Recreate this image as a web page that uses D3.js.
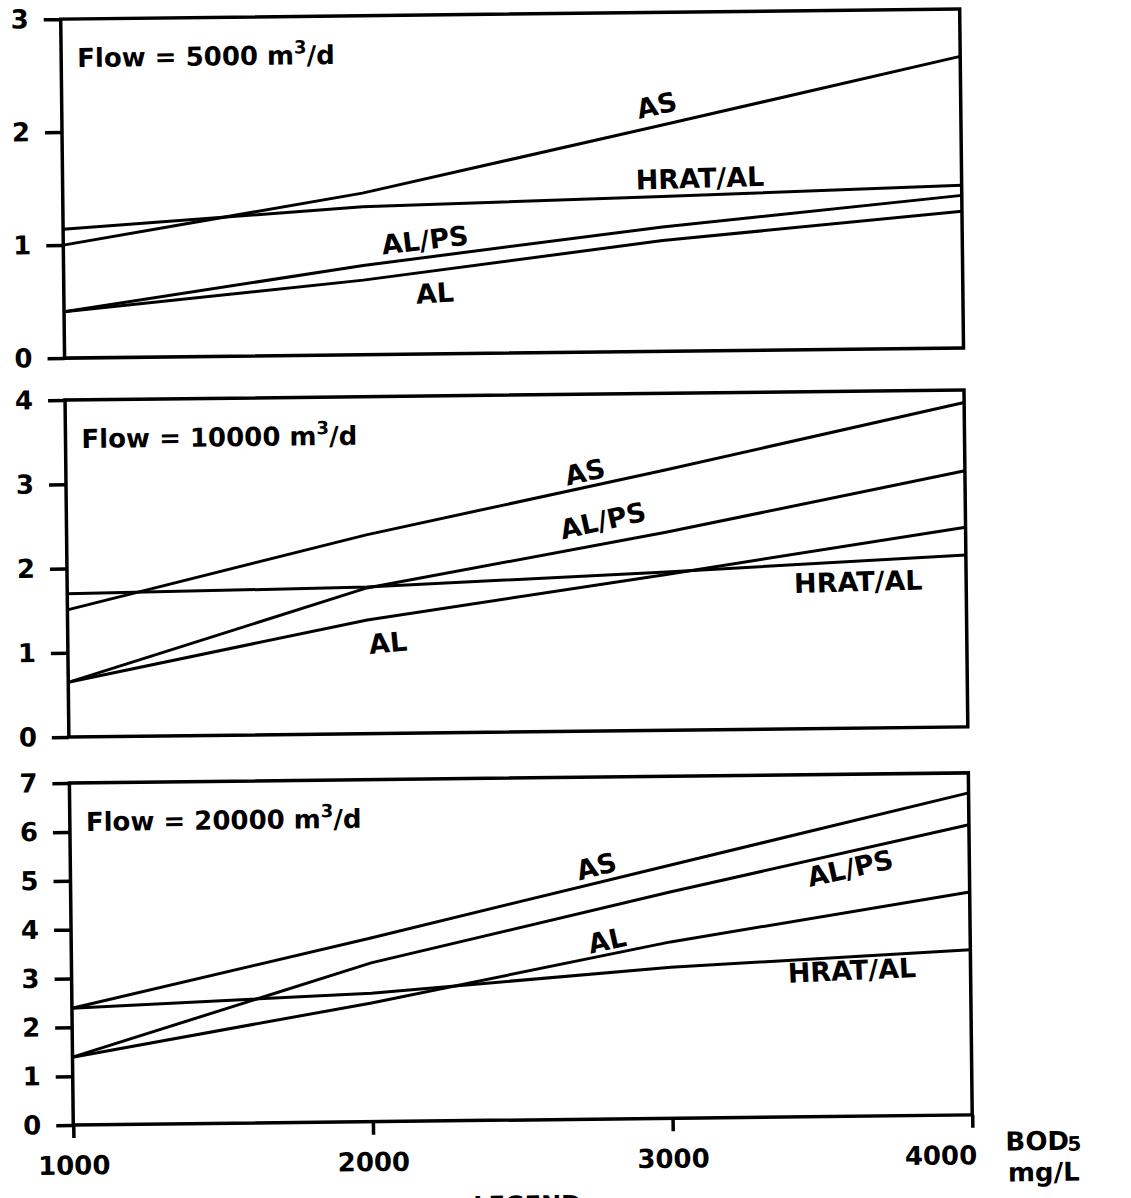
<!DOCTYPE html>
<html>
<head>
<meta charset="utf-8">
<script src="https://cdn.jsdelivr.net/npm/d3@7"></script>
<style>
  html, body { margin: 0; padding: 0; background: #fff; }
  svg text { font-family: "DejaVu Sans", sans-serif; font-weight: bold; fill: #000; }
</style>
</head>
<body>
<div id="chart"></div>
<script>
// BOD5 (mg/L) on x, cost on y, one panel per flow
const bod = [1000, 2000, 3000, 4000];
const seriesNames = ["AS", "HRAT/AL", "AL/PS", "AL"];
const flows = [5000, 10000, 20000];
const yTops = [3, 4, 7];

// values per series, in seriesNames order, read at bod points
const cost5000 = [
  [1.00, 1.43, 2.00, 2.58],
  [1.14, 1.31, 1.37, 1.44],
  [0.41, 0.79, 1.10, 1.35],
  [0.41, 0.66, 0.98, 1.21]
];
const cost10000 = [
  [1.51, 2.36, 3.09, 3.85],
  [1.70, 1.74, 1.88, 2.04],
  [0.65, 1.73, 2.35, 3.04],
  [0.65, 1.35, 1.85, 2.37]
];
const cost20000 = [
  [2.39, 3.76, 5.18, 6.59],
  [2.39, 2.63, 3.09, 3.38],
  [1.39, 3.25, 4.63, 5.94],
  [1.39, 2.43, 3.61, 4.56]
];
const panelData = [cost5000, cost10000, cost20000];

// where each curve name sits: [name, bod, cost, angle]
const labelSpots = [
  [["AS", 2985, 2.18, -12], ["HRAT/AL", 3127, 1.53, -1], ["AL/PS", 2207, 1.01, -6], ["AL", 2238, 0.54, -3]],
  [["AS", 2732, 3.08, -12], ["AL/PS", 2790, 2.50, -12], ["HRAT/AL", 3640, 1.74, -1], ["AL", 2068, 1.08, -5]],
  [["AS", 2755, 5.18, -14], ["AL/PS", 3602, 5.08, -12], ["AL", 2788, 3.66, -12], ["HRAT/AL", 3604, 2.99, -2]]
];

const width = 1131;
const height = 1198;

const svg = d3.select("#chart")
  .append("svg")
  .attr("width", width)
  .attr("height", height);

// the scan is a little tilted
const root = svg.append("g").attr("transform", "rotate(-0.65 516 570)");

const panelBox = [
  { top: 14, bottom: 353 },
  { top: 395, bottom: 732 },
  { top: 778, bottom: 1120 }
];

const x = d3.scaleLinear().domain([1000, 4000]).range([67, 966]);

const line = d3.line()
  .x((d, i) => x(bod[i]))
  .y(d => d);

panelBox.forEach((box, p) => {
  const y = d3.scaleLinear().domain([0, yTops[p]]).range([box.bottom, box.top]);
  const g = root.append("g");

  // y ticks on the left
  const yAxis = g.append("g")
    .attr("transform", `translate(${x(1000)},0)`)
    .call(d3.axisLeft(y).ticks(yTops[p]).tickSize(17).tickPadding(15).tickFormat(d3.format("d")));
  yAxis.select(".domain").remove();
  yAxis.selectAll("line").attr("stroke", "#000").attr("stroke-width", 3.5);
  yAxis.selectAll("text").attr("font-size", 26).attr("font-family", "DejaVu Sans").attr("font-weight", "bold");

  // bottom ticks only on the last panel
  if (p === 2) {
    const xAxis = g.append("g")
      .attr("transform", `translate(0,${box.bottom})`)
      .call(d3.axisBottom(x).tickValues(bod).tickSize(13).tickPadding(18).tickFormat(d3.format("d")));
    xAxis.select(".domain").remove();
    xAxis.selectAll("line").attr("stroke", "#000").attr("stroke-width", 3.5);
    xAxis.selectAll("text").attr("font-size", 26).attr("font-family", "DejaVu Sans").attr("font-weight", "bold");
    xAxis.selectAll(".tick").filter(d => d === 4000).select("text")
      .attr("text-anchor", "end").attr("x", 4);

    g.append("text")
      .attr("x", x(4000) + 33)
      .attr("y", box.bottom + 36)
      .attr("font-size", 26)
      .text("BOD");
    g.append("text")
      .attr("x", x(4000) + 95)
      .attr("y", box.bottom + 37)
      .attr("font-size", 20)
      .text("5");
    g.append("text")
      .attr("x", x(4000) + 35)
      .attr("y", box.bottom + 67)
      .attr("font-size", 26)
      .text("mg/L");
  }

  // frame
  g.append("rect")
    .attr("x", x(1000))
    .attr("y", box.top)
    .attr("width", x(4000) - x(1000))
    .attr("height", box.bottom - box.top)
    .attr("fill", "none")
    .attr("stroke", "#000")
    .attr("stroke-width", 3.5);

  // curves
  g.append("g")
    .selectAll("path")
    .data(panelData[p])
    .enter()
    .append("path")
    .attr("d", vals => line(vals.map(v => y(v))))
    .attr("fill", "none")
    .attr("stroke", "#000")
    .attr("stroke-width", 3);

  // curve names
  g.append("g")
    .selectAll("text")
    .data(labelSpots[p])
    .enter()
    .append("text")
    .attr("transform", d => `translate(${x(d[1])},${y(d[2])}) rotate(${d[3]})`)
    .attr("text-anchor", "middle")
    .attr("dy", "0.36em")
    .attr("font-size", 27)
    .text(d => d[0]);

  // flow title
  const title = g.append("text")
    .attr("x", x(1000) + 16)
    .attr("y", box.top + 48)
    .attr("font-size", 26);
  title.append("tspan").text("Flow = " + flows[p] + " m");
  title.append("tspan").attr("font-size", 18).attr("dy", -11).text("3");
  title.append("tspan").attr("dy", 11).text("/d");
});

// cut-off caption at the page foot
root.append("text")
  .attr("x", 520)
  .attr("y", 1213)
  .attr("text-anchor", "middle")
  .attr("font-size", 24)
  .text("LEGEND");
</script>
</body>
</html>
